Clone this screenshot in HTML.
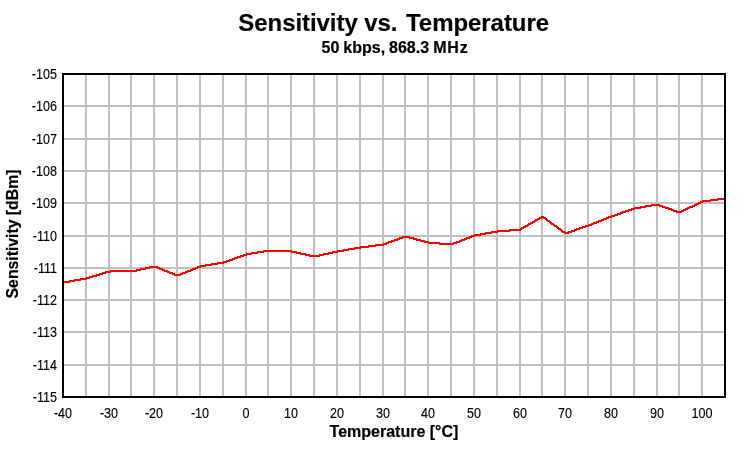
<!DOCTYPE html>
<html lang="en">
<head>
<meta charset="utf-8">
<title>Sensitivity vs. Temperature</title>
<style>
html,body{margin:0;padding:0;background:#fff;}
body{width:752px;height:449px;overflow:hidden;}
svg{display:block;}
text{font-family:"Liberation Sans",Arial,Helvetica,sans-serif;fill:#000;}
.t{font-size:24px;font-weight:bold;stroke:#000;stroke-width:0.15px;}
.s{font-size:16px;font-weight:bold;stroke:#000;stroke-width:0.2px;}
.a{font-size:16px;font-weight:bold;stroke:#000;stroke-width:0.2px;}
.k{font-size:14px;stroke:#000;stroke-width:0.12px;}
</style>
</head>
<body>
<svg width="752" height="449" viewBox="0 0 752 449">
<rect x="0" y="0" width="752" height="449" fill="#ffffff"/>
<g shape-rendering="crispEdges" fill="#c0c0c0">
<rect x="85" y="75" width="2" height="321"/>
<rect x="108" y="75" width="2" height="321"/>
<rect x="130" y="75" width="2" height="321"/>
<rect x="153" y="75" width="2" height="321"/>
<rect x="176" y="75" width="2" height="321"/>
<rect x="199" y="75" width="2" height="321"/>
<rect x="222" y="75" width="2" height="321"/>
<rect x="245" y="75" width="2" height="321"/>
<rect x="267" y="75" width="2" height="321"/>
<rect x="290" y="75" width="2" height="321"/>
<rect x="313" y="75" width="2" height="321"/>
<rect x="336" y="75" width="2" height="321"/>
<rect x="359" y="75" width="2" height="321"/>
<rect x="382" y="75" width="2" height="321"/>
<rect x="404" y="75" width="2" height="321"/>
<rect x="427" y="75" width="2" height="321"/>
<rect x="450" y="75" width="2" height="321"/>
<rect x="473" y="75" width="2" height="321"/>
<rect x="496" y="75" width="2" height="321"/>
<rect x="519" y="75" width="2" height="321"/>
<rect x="541" y="75" width="2" height="321"/>
<rect x="564" y="75" width="2" height="321"/>
<rect x="587" y="75" width="2" height="321"/>
<rect x="610" y="75" width="2" height="321"/>
<rect x="633" y="75" width="2" height="321"/>
<rect x="656" y="75" width="2" height="321"/>
<rect x="678" y="75" width="2" height="321"/>
<rect x="701" y="75" width="2" height="321"/>
<rect x="64" y="105" width="660" height="2"/>
<rect x="64" y="138" width="660" height="2"/>
<rect x="64" y="170" width="660" height="2"/>
<rect x="64" y="202" width="660" height="2"/>
<rect x="64" y="235" width="660" height="2"/>
<rect x="64" y="267" width="660" height="2"/>
<rect x="64" y="299" width="660" height="2"/>
<rect x="64" y="331" width="660" height="2"/>
<rect x="64" y="364" width="660" height="2"/>
</g>
<path fill="#ff0000" shape-rendering="crispEdges" d="M63 281h7v2h-7zM69 280h6v2h-6zM74 279h7v2h-7zM80 278h7v2h-7zM86 277h4v2h-4zM89 276h4v2h-4zM92 275h5v2h-5zM96 274h4v2h-4zM99 273h4v2h-4zM102 272h4v2h-4zM105 271h6v2h-6zM110 270h27v2h-27zM136 269h5v2h-5zM140 268h6v2h-6zM145 267h5v2h-5zM149 266h9v2h-9zM157 267h3v2h-3zM159 268h4v2h-4zM162 269h3v2h-3zM164 270h4v2h-4zM167 271h3v2h-3zM169 272h4v2h-4zM172 273h3v2h-3zM174 274h7v2h-7zM180 273h3v2h-3zM182 272h4v2h-4zM185 271h3v2h-3zM187 270h4v2h-4zM190 269h3v2h-3zM192 268h4v2h-4zM195 267h3v2h-3zM197 266h4v2h-4zM200 265h6v2h-6zM205 264h7v2h-7zM211 263h7v2h-7zM217 262h7v2h-7zM223 261h4v2h-4zM226 260h4v2h-4zM229 259h4v2h-4zM232 258h3v2h-3zM234 257h4v2h-4zM237 256h4v2h-4zM240 255h4v2h-4zM243 254h4v2h-4zM246 253h6v2h-6zM251 252h7v2h-7zM257 251h7v2h-7zM263 250h29v2h-29zM291 251h6v2h-6zM296 252h5v2h-5zM300 253h6v2h-6zM305 254h5v2h-5zM309 255h11v2h-11zM319 254h5v2h-5zM323 253h6v2h-6zM328 252h5v2h-5zM332 251h6v2h-6zM337 250h7v2h-7zM343 249h6v2h-6zM348 248h7v2h-7zM354 247h7v2h-7zM360 246h9v2h-9zM368 245h8v2h-8zM375 244h9v2h-9zM383 243h4v2h-4zM386 242h3v2h-3zM388 241h4v2h-4zM391 240h4v2h-4zM394 239h4v2h-4zM397 238h3v2h-3zM399 237h4v2h-4zM402 236h8v2h-8zM409 237h5v2h-5zM413 238h4v2h-4zM416 239h5v2h-5zM420 240h5v2h-5zM424 241h5v2h-5zM428 242h12v2h-12zM439 243h15v2h-15zM453 242h4v2h-4zM456 241h4v2h-4zM459 240h3v2h-3zM461 239h4v2h-4zM464 238h3v2h-3zM466 237h4v2h-4zM469 236h3v2h-3zM471 235h4v2h-4zM474 234h7v2h-7zM480 233h6v2h-6zM485 232h7v2h-7zM491 231h7v2h-7zM497 230h13v2h-13zM509 229h12v2h-12zM520 228h2v2h-2zM521 227h3v2h-3zM523 226h3v2h-3zM525 225h3v2h-3zM527 224h2v2h-2zM528 223h3v2h-3zM530 222h3v2h-3zM532 221h3v2h-3zM534 220h2v2h-2zM535 219h3v2h-3zM537 218h3v2h-3zM539 217h3v2h-3zM541 216h3v2h-3zM543 217h3v2h-3zM545 218h2v2h-2zM546 219h2v2h-2zM547 220h3v2h-3zM549 221h2v2h-2zM550 222h2v2h-2zM551 223h3v2h-3zM553 224h2v2h-2zM554 225h3v2h-3zM556 226h2v2h-2zM557 227h2v2h-2zM558 228h3v2h-3zM560 229h2v2h-2zM561 230h2v2h-2zM562 231h3v2h-3zM564 232h5v2h-5zM568 231h4v2h-4zM571 230h4v2h-4zM574 229h3v2h-3zM576 228h4v2h-4zM579 227h4v2h-4zM582 226h4v2h-4zM585 225h4v2h-4zM588 224h4v2h-4zM591 223h3v2h-3zM593 222h4v2h-4zM596 221h3v2h-3zM598 220h4v2h-4zM601 219h3v2h-3zM603 218h4v2h-4zM606 217h3v2h-3zM608 216h4v2h-4zM611 215h4v2h-4zM614 214h4v2h-4zM617 213h4v2h-4zM620 212h3v2h-3zM622 211h4v2h-4zM625 210h4v2h-4zM628 209h4v2h-4zM631 208h4v2h-4zM634 207h7v2h-7zM640 206h6v2h-6zM645 205h7v2h-7zM651 204h9v2h-9zM659 205h4v2h-4zM662 206h4v2h-4zM665 207h4v2h-4zM668 208h4v2h-4zM671 209h3v2h-3zM673 210h4v2h-4zM676 211h6v2h-6zM681 210h3v2h-3zM683 209h3v2h-3zM685 208h3v2h-3zM687 207h3v2h-3zM689 206h4v2h-4zM692 205h3v2h-3zM694 204h3v2h-3zM696 203h3v2h-3zM698 202h3v2h-3zM700 201h3v2h-3zM702 200h9v2h-9zM710 199h8v2h-8zM717 198h9v2h-9z"/>
<rect x="63" y="74" width="662" height="323" fill="none" stroke="#000" stroke-width="2" shape-rendering="crispEdges"/>
<text class="t" x="238.3" y="31"><tspan letter-spacing="-0.06">Sensitivity</tspan> <tspan dx="-0.2">vs.</tspan> <tspan dx="1.8" letter-spacing="-0.05">Temperature</tspan></text>
<text class="s" x="321.6" y="53">50 <tspan dx="-0.5">kbps,</tspan> <tspan dx="-0.6">868.3</tspan> <tspan dx="-0.3" letter-spacing="0.8">MHz</tspan></text>
<text class="a" x="394" y="437" text-anchor="middle">Temperature [°C]</text>
<text class="a" transform="translate(18 234) rotate(-90) scale(0.987 1)" text-anchor="middle">Sensitivity [dBm]</text>
<text class="k" transform="translate(57 79) scale(0.9 1)" text-anchor="end">-105</text>
<text class="k" transform="translate(57 111) scale(0.9 1)" text-anchor="end">-106</text>
<text class="k" transform="translate(57 144) scale(0.9 1)" text-anchor="end">-107</text>
<text class="k" transform="translate(57 176) scale(0.9 1)" text-anchor="end">-108</text>
<text class="k" transform="translate(57 208) scale(0.9 1)" text-anchor="end">-109</text>
<text class="k" transform="translate(57 241) scale(0.9 1)" text-anchor="end">-110</text>
<text class="k" transform="translate(57 273) scale(0.9 1)" text-anchor="end">-111</text>
<text class="k" transform="translate(57 305) scale(0.9 1)" text-anchor="end">-112</text>
<text class="k" transform="translate(57 337) scale(0.9 1)" text-anchor="end">-113</text>
<text class="k" transform="translate(57 370) scale(0.9 1)" text-anchor="end">-114</text>
<text class="k" transform="translate(57 402) scale(0.9 1)" text-anchor="end">-115</text>
<text class="k" transform="translate(63 418) scale(0.9 1)" text-anchor="middle">-40</text>
<text class="k" transform="translate(109 418) scale(0.9 1)" text-anchor="middle">-30</text>
<text class="k" transform="translate(154 418) scale(0.9 1)" text-anchor="middle">-20</text>
<text class="k" transform="translate(200 418) scale(0.9 1)" text-anchor="middle">-10</text>
<text class="k" transform="translate(246 418) scale(0.9 1)" text-anchor="middle">0</text>
<text class="k" transform="translate(291 418) scale(0.9 1)" text-anchor="middle">10</text>
<text class="k" transform="translate(337 418) scale(0.9 1)" text-anchor="middle">20</text>
<text class="k" transform="translate(383 418) scale(0.9 1)" text-anchor="middle">30</text>
<text class="k" transform="translate(428 418) scale(0.9 1)" text-anchor="middle">40</text>
<text class="k" transform="translate(474 418) scale(0.9 1)" text-anchor="middle">50</text>
<text class="k" transform="translate(520 418) scale(0.9 1)" text-anchor="middle">60</text>
<text class="k" transform="translate(565 418) scale(0.9 1)" text-anchor="middle">70</text>
<text class="k" transform="translate(611 418) scale(0.9 1)" text-anchor="middle">80</text>
<text class="k" transform="translate(657 418) scale(0.9 1)" text-anchor="middle">90</text>
<text class="k" transform="translate(702 418) scale(0.9 1)" text-anchor="middle">100</text>
</svg>
</body>
</html>
